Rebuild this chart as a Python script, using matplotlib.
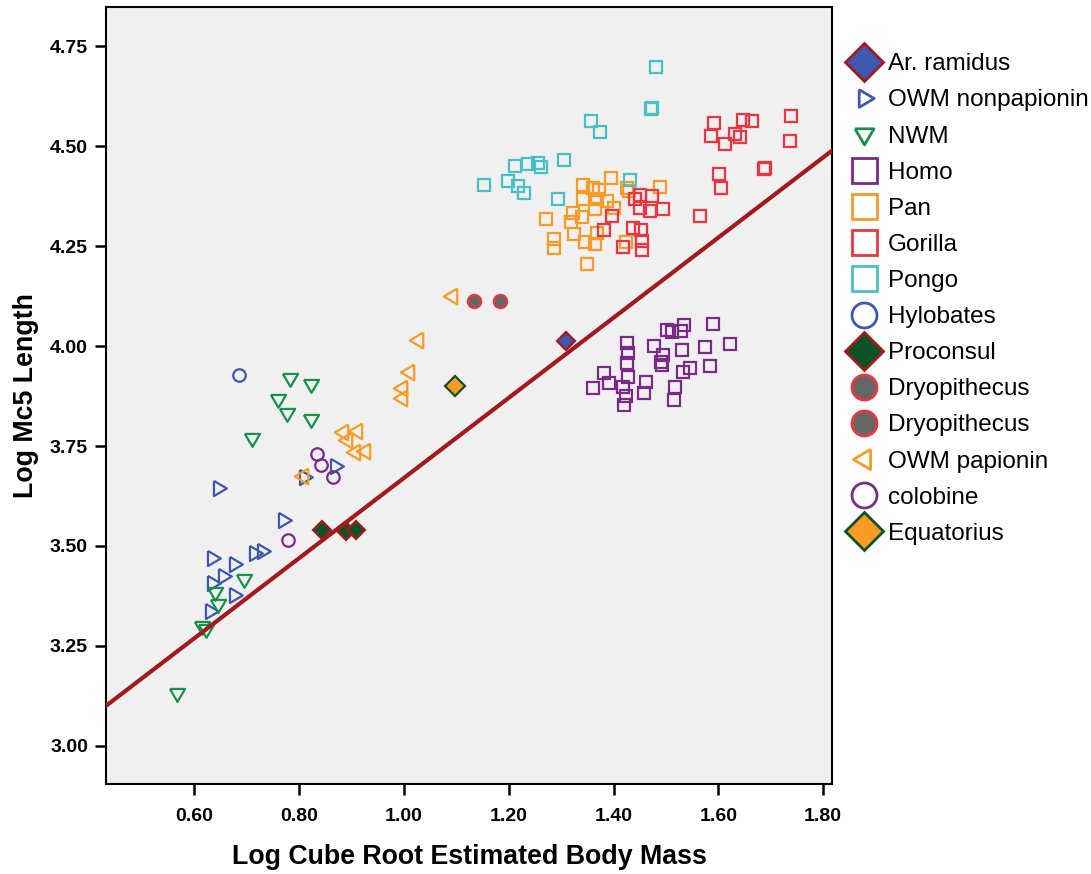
import matplotlib
matplotlib.use("Agg")

import matplotlib.pyplot as plt
from matplotlib.lines import Line2D

plt.rcParams['font.family'] = ['Liberation Sans', 'DejaVu Sans']

# Daten
ar_ramidus_x = [1.309]
ar_ramidus_y = [4.013]

owm_nonpap_x = [0.645, 0.770, 0.869, 0.809, 0.633, 0.713, 0.730, 0.676, 0.655, 0.633, 0.676, 0.630]
owm_nonpap_y = [3.646, 3.565, 3.700, 3.672, 3.471, 3.483, 3.488, 3.455, 3.425, 3.407, 3.378, 3.338]

nwm_x = [0.783, 0.822, 0.760, 0.777, 0.823, 0.711, 0.695, 0.640, 0.646, 0.614, 0.622, 0.566]
nwm_y = [3.919, 3.905, 3.868, 3.832, 3.818, 3.769, 3.418, 3.384, 3.355, 3.300, 3.292, 3.132]

homo_x = [1.535, 1.589, 1.503, 1.511, 1.529, 1.622, 1.425, 1.478, 1.575, 1.530,
          1.428, 1.495, 1.426, 1.492, 1.584, 1.546, 1.533, 1.428, 1.381, 1.392,
          1.360, 1.462, 1.419, 1.458, 1.517, 1.424, 1.420, 1.515, 1.490]
homo_y = [4.052, 4.055, 4.040, 4.036, 4.038, 4.005, 4.007, 4.000, 3.998, 3.990,
          3.983, 3.978, 3.958, 3.953, 3.950, 3.944, 3.936, 3.923, 3.933, 3.907,
          3.894, 3.911, 3.898, 3.883, 3.898, 3.875, 3.853, 3.865, 3.960]

pan_x = [1.395, 1.342, 1.361, 1.373, 1.425, 1.489, 1.342, 1.368, 1.387, 1.400,
         1.365, 1.323, 1.339, 1.272, 1.318, 1.325, 1.368, 1.286, 1.286, 1.346,
         1.365, 1.423, 1.349, 1.430]
pan_y = [4.421, 4.403, 4.394, 4.390, 4.394, 4.398, 4.367, 4.367, 4.363, 4.344,
         4.342, 4.332, 4.323, 4.318, 4.311, 4.279, 4.282, 4.268, 4.244, 4.259,
         4.254, 4.261, 4.205, 4.388]

gorilla_x = [1.592, 1.648, 1.664, 1.738, 1.587, 1.613, 1.632, 1.641, 1.736, 1.687,
             1.689, 1.601, 1.606, 1.565, 1.451, 1.441, 1.473, 1.451, 1.470, 1.495,
             1.398, 1.381, 1.438, 1.452, 1.418, 1.455, 1.455]
gorilla_y = [4.558, 4.565, 4.563, 4.575, 4.525, 4.505, 4.530, 4.523, 4.513, 4.442,
             4.444, 4.430, 4.396, 4.325, 4.378, 4.367, 4.375, 4.344, 4.338, 4.342,
             4.325, 4.290, 4.294, 4.290, 4.247, 4.240, 4.263]

pongo_x = [1.482, 1.471, 1.474, 1.357, 1.374, 1.306, 1.212, 1.237, 1.255, 1.261,
           1.153, 1.198, 1.218, 1.230, 1.295, 1.432]
pongo_y = [4.697, 4.594, 4.596, 4.563, 4.535, 4.465, 4.451, 4.455, 4.457, 4.448,
           4.403, 4.413, 4.401, 4.383, 4.367, 4.415]

hylobates_x = [0.686]
hylobates_y = [3.928]

proconsul_x = [0.844, 0.890, 0.908]
proconsul_y = [3.540, 3.538, 3.540]

dryo1_x = [1.133]
dryo1_y = [4.113]
dryo2_x = [1.184]
dryo2_y = [4.113]

owm_pap_x = [1.091, 1.027, 1.010, 0.996, 0.996, 0.883, 0.911, 0.892, 0.907, 0.926, 0.807]
owm_pap_y = [4.125, 4.015, 3.936, 3.894, 3.871, 3.786, 3.788, 3.765, 3.736, 3.738, 3.675]

colobine_x = [0.835, 0.842, 0.864, 0.779]
colobine_y = [3.730, 3.703, 3.673, 3.515]

equatorius_x = [1.098]
equatorius_y = [3.900]

# Regressionslinie
fit_intercept = 2.668
fit_slope = 1.002

# Farben
blue = "#3D58AE"
green = "#16924A"
purple = "#7A2A88"
orange = "#F89B24"
red = "#EE3440"
cyan = "#47C1C6"
darkred = "#A4191D"
darkgreen = "#0C5427"
gray = "#666666"

# Dreiecke
tri_down = [(-1, 0.6), (1, 0.6), (0, -1.1), (-1, 0.6)]
tri_right = [(-0.6, 1), (-0.6, -1), (1.1, 0), (-0.6, 1)]
tri_left = [(0.6, 1), (0.6, -1), (-1.1, 0), (0.6, 1)]

# (label, x, y, marker, face, edge, plot size, legend size)
groups = [
    ("Ar. ramidus", ar_ramidus_x, ar_ramidus_y, "D", blue, darkred, 9.5, 19),
    ("OWM nonpapionin", owm_nonpap_x, owm_nonpap_y, tri_right, "none", blue, 12, 14),
    ("NWM", nwm_x, nwm_y, tri_down, "none", green, 12, 15),
    ("Homo", homo_x, homo_y, "s", "none", purple, 8.5, 18),
    ("Pan", pan_x, pan_y, "s", "none", orange, 8.5, 18),
    ("Gorilla", gorilla_x, gorilla_y, "s", "none", red, 8.5, 18),
    ("Pongo", pongo_x, pongo_y, "s", "none", cyan, 8.5, 18),
    ("Hylobates", hylobates_x, hylobates_y, "o", "none", blue, 9, 18),
    ("Proconsul", proconsul_x, proconsul_y, "D", darkgreen, darkred, 9.5, 19),
    ("Dryopithecus", dryo1_x, dryo1_y, "o", gray, red, 9.5, 18),
    ("Dryopithecus", dryo2_x, dryo2_y, "o", gray, red, 9.5, 18),
    ("OWM papionin", owm_pap_x, owm_pap_y, tri_left, "none", orange, 12.5, 16),
    ("colobine", colobine_x, colobine_y, "o", "none", purple, 9, 18),
    ("Equatorius", equatorius_x, equatorius_y, "D", orange, darkgreen, 10, 19),
]

fig = plt.figure(figsize=(10.91, 8.74), dpi=100)
ax = fig.add_axes([0.0972, 0.1026, 0.6657, 0.889])
ax.set_facecolor("#F0F0F0")

handles = []
for label, xs, ys, marker, face, edge, ms, lms in groups:
    ax.plot(xs, ys, linestyle="none", marker=marker, markersize=ms,
            markerfacecolor=face, markeredgecolor=edge, markeredgewidth=1.6, zorder=2)
    handles.append(Line2D([], [], linestyle="none", marker=marker, markersize=lms,
                          markerfacecolor=face, markeredgecolor=edge,
                          markeredgewidth=2.0, label=label))

# Linie
xmin, xmax = 0.4315, 1.8176
ax.plot([xmin, xmax], [fit_intercept + fit_slope * xmin, fit_intercept + fit_slope * xmax],
        color=darkred, linewidth=3.0, zorder=3)

ax.set_xlim(xmin, xmax)
ax.set_ylim(2.904, 4.847)
ax.set_xticks([0.6, 0.8, 1.0, 1.2, 1.4, 1.6, 1.8])
ax.set_yticks([3.0, 3.25, 3.5, 3.75, 4.0, 4.25, 4.5, 4.75])
ax.set_xticklabels(["%.2f" % v for v in ax.get_xticks()], fontweight="bold", fontsize=14)
ax.set_yticklabels(["%.2f" % v for v in ax.get_yticks()], fontweight="bold", fontsize=14)
ax.tick_params(direction="out", length=8, width=1.8)
ax.tick_params(axis="x", pad=9)
ax.tick_params(axis="y", pad=5)

for sp in ax.spines.values():
    sp.set_linewidth(1.5)
    sp.set_color("black")

ax.set_xlabel("Log Cube Root Estimated Body Mass", fontsize=19.3, fontweight="bold", labelpad=14)
ax.set_ylabel("Log Mc5 Length", fontsize=19.3, fontweight="bold", labelpad=8)

fig.legend(handles=handles, loc="upper left", bbox_to_anchor=(0.779, 0.939),
           frameon=False, fontsize=17.5, handlelength=1.2, handletextpad=0.35,
           labelspacing=0.58, borderpad=0, borderaxespad=0)

fig.savefig("out.png", dpi=100)
plt.close()
